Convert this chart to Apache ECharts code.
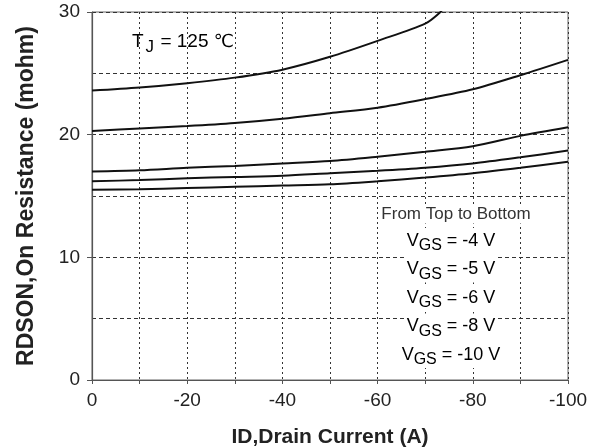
<!DOCTYPE html>
<html>
<head>
<meta charset="utf-8">
<script src="https://cdn.jsdelivr.net/npm/echarts@6/dist/echarts.min.js"></script>
<style>
  html, body { margin: 0; padding: 0; background: #fff; }
  #chart { width: 604px; height: 448px; }
</style>
</head>
<body>
<div id="chart"></div>
<script>
// Drain current sample points (A)
const drainCurrent = [0, -10, -20, -30, -40, -50, -60, -70, -80, -90, -100];
// VGS = -4 V curve leaves the top of the plot, so it has its own current points
const drainCurrentVgs4 = [0, -10, -20, -30, -40, -50, -60, -70, -73.5];

// On resistance (mohm) for each gate voltage, top to bottom
const rdsVgs4 = [23.6, 23.85, 24.2, 24.65, 25.3, 26.35, 27.65, 29.05, 30.1];
const rdsVgs5 = [20.3, 20.5, 20.7, 20.95, 21.3, 21.75, 22.2, 22.9, 23.7, 24.85, 26.1];
const rdsVgs6 = [17.0, 17.1, 17.3, 17.45, 17.65, 17.85, 18.2, 18.6, 19.05, 19.9, 20.6];
const rdsVgs8 = [16.2, 16.3, 16.45, 16.55, 16.65, 16.85, 17.05, 17.3, 17.65, 18.15, 18.7];
const rdsVgs10 = [15.5, 15.55, 15.65, 15.75, 15.85, 15.95, 16.2, 16.5, 16.85, 17.3, 17.8];

const gateLabels = ['-4 V', '-5 V', '-6 V', '-8 V', '-10 V'];

const FONT = 'Liberation Sans, Arial, sans-serif';

function pairs(xs, ys) { return xs.map((x, i) => [x, ys[i]]); }

const curves = [
  pairs(drainCurrentVgs4, rdsVgs4),
  pairs(drainCurrent, rdsVgs5),
  pairs(drainCurrent, rdsVgs6),
  pairs(drainCurrent, rdsVgs8),
  pairs(drainCurrent, rdsVgs10)
];

const chart = echarts.init(document.getElementById('chart'), null, { renderer: 'canvas' });

const vgsRich = {
  v: { fontFamily: FONT, fontSize: 18, color: '#333' },
  s: { fontFamily: FONT, fontSize: 16, color: '#333', verticalAlign: 'bottom', padding: [10, 0, 0, 0] }
};

const legendLines = gateLabels.map((g, i) => ({
  type: 'text',
  x: 451,
  y: 241 + i * 28.5,
  style: {
    text: '{v|V}{s|GS}{v| = ' + g + '}',
    rich: vgsRich,
    align: 'center',
    verticalAlign: 'middle',
    backgroundColor: '#fff',
    padding: [0, 2]
  },
  z: 10
}));

const gridDash = { color: '#333', width: 1 };

chart.setOption({
  animation: false,
  backgroundColor: '#fff',
  grid: {
    left: 92, right: 36, top: 12, bottom: 68,
    containLabel: false,
    outerBoundsMode: 'none',
    show: true, borderColor: '#666', borderWidth: 1, backgroundColor: 'transparent'
  },
  xAxis: {
    type: 'value',
    inverse: true,
    min: -100, max: 0, interval: 20,
    name: 'ID,Drain Current (A)',
    nameLocation: 'middle',
    nameGap: 47,
    nameTextStyle: { fontFamily: FONT, fontSize: 21, fontWeight: 'bold', color: '#222' },
    axisLine: { show: true, onZero: false, lineStyle: { color: '#555', width: 1.2 } },
    axisTick: { show: true, length: 4, lineStyle: { color: '#555' } },
    minorTick: { show: true, splitNumber: 2, length: 4, lineStyle: { color: '#555' } },
    axisLabel: { fontFamily: FONT, fontSize: 19, color: '#222', margin: 11 },
    splitLine: { show: true, lineStyle: Object.assign({ type: [2, 3] }, gridDash) },
    minorSplitLine: { show: true, lineStyle: Object.assign({ type: [2, 3] }, gridDash) }
  },
  yAxis: {
    type: 'value',
    min: 0, max: 30, interval: 10,
    name: 'RDSON,On Resistance (mohm)',
    nameLocation: 'middle',
    nameGap: 54,
    nameTextStyle: { fontFamily: FONT, fontSize: 23, fontWeight: 'bold', color: '#222' },
    axisLine: { show: true, onZero: false, lineStyle: { color: '#555', width: 1.2 } },
    axisTick: { show: true, length: 5, lineStyle: { color: '#555' } },
    minorTick: { show: false, splitNumber: 2 },
    axisLabel: { fontFamily: FONT, fontSize: 19, color: '#222', margin: 12 },
    splitLine: { show: true, lineStyle: Object.assign({ type: [4, 3] }, gridDash) },
    minorSplitLine: { show: true, lineStyle: Object.assign({ type: [4, 3] }, gridDash) }
  },
  series: curves.map((d, i) => ({
    name: 'VGS = ' + gateLabels[i],
    type: 'line',
    data: d,
    smooth: 0.3,
    showSymbol: false,
    clip: true,
    lineStyle: { color: '#111', width: 2 },
    z: 3
  })),
  graphic: [
    {
      type: 'text',
      x: 132, y: 42,
      style: {
        text: '{t|T}{j|J}{t| = 125 }{c|℃}',
        verticalAlign: 'middle',
        rich: {
          t: { fontFamily: FONT, fontSize: 19, color: '#222' },
          j: { fontFamily: FONT, fontSize: 17, color: '#222', padding: [11, 1, 0, 2] },
          c: { fontFamily: 'DejaVu Sans, sans-serif', fontSize: 18, color: '#666' }
        }
      },
      z: 10
    },
    {
      type: 'text',
      x: 456, y: 214,
      style: {
        text: 'From Top to Bottom',
        fontFamily: FONT, fontSize: 17, fill: '#333',
        align: 'center', verticalAlign: 'middle',
        backgroundColor: '#fff', padding: [1, 2]
      },
      z: 10
    }
  ].concat(legendLines)
});
</script>
</body>
</html>
